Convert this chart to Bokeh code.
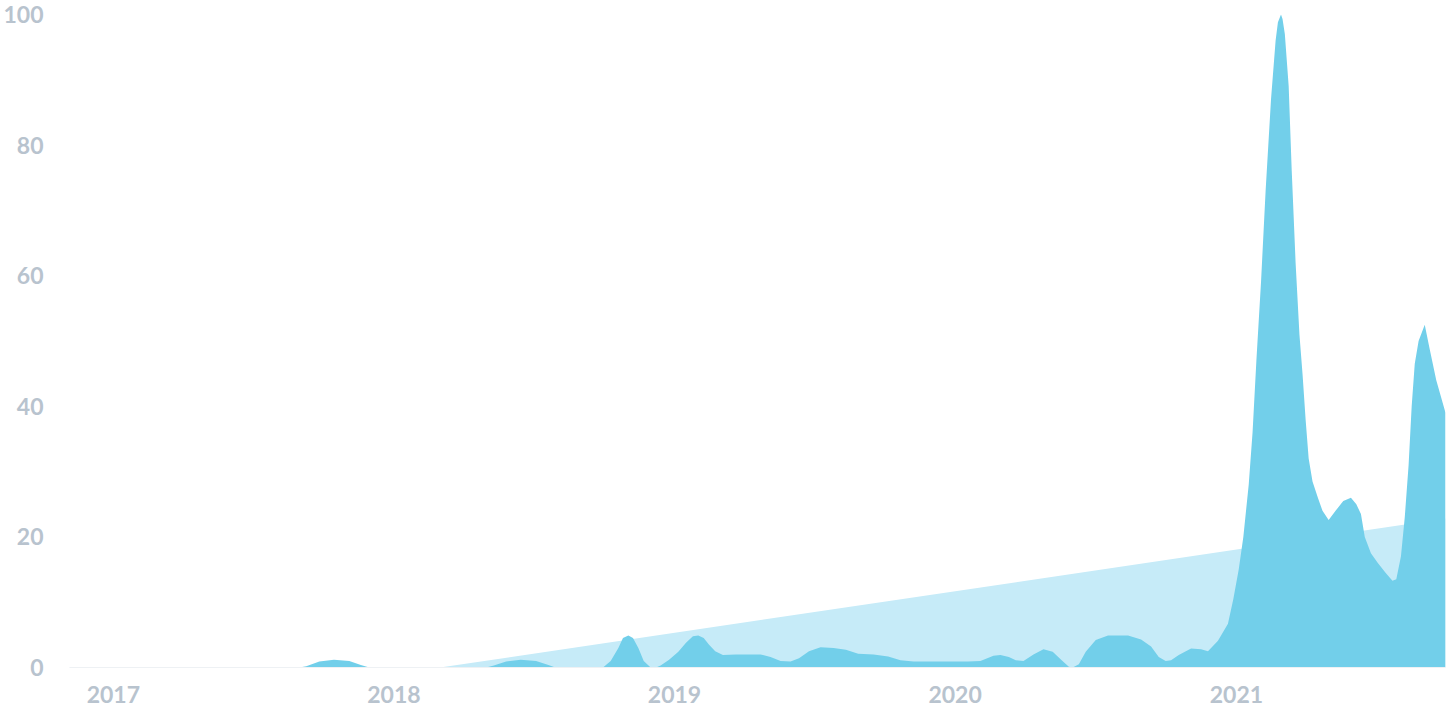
import pandas as pd
from bokeh.plotting import figure
from bokeh.models import ColumnDataSource, FixedTicker, DatetimeTickFormatter, Range1d
from bokeh.embed import file_html
from bokeh.resources import INLINE

# ---- data ----
dates = [
    "2016-11-05", "2017-08-31", "2017-09-09", "2017-09-26", "2017-10-15", "2017-11-04",
    "2017-11-19", "2017-11-30", "2018-05-01", "2018-05-11", "2018-05-27", "2018-06-15",
    "2018-07-05", "2018-07-21", "2018-07-30", "2018-09-30", "2018-10-10", "2018-10-20",
    "2018-10-26", "2018-11-02", "2018-11-08", "2018-11-15", "2018-11-22", "2018-12-01",
    "2018-12-08", "2018-12-14", "2018-12-25", "2019-01-06", "2019-01-16", "2019-01-25",
    "2019-02-01", "2019-02-08", "2019-02-15", "2019-02-23", "2019-03-05", "2019-03-22",
    "2019-04-23", "2019-05-06", "2019-05-19", "2019-06-01", "2019-06-12", "2019-06-25",
    "2019-07-10", "2019-07-27", "2019-08-12", "2019-08-28", "2019-09-17", "2019-10-06",
    "2019-10-22", "2019-11-08", "2020-01-18", "2020-02-03", "2020-02-20", "2020-02-29",
    "2020-03-11", "2020-03-20", "2020-03-30", "2020-04-12", "2020-04-25", "2020-05-07",
    "2020-05-18", "2020-05-28", "2020-06-02", "2020-06-10", "2020-06-19", "2020-07-02",
    "2020-07-18", "2020-08-13", "2020-08-30", "2020-09-12", "2020-09-22", "2020-10-01",
    "2020-10-08", "2020-10-18", "2020-11-03", "2020-11-16", "2020-11-25", "2020-12-08",
    "2020-12-21", "2020-12-28", "2021-01-04", "2021-01-10", "2021-01-17", "2021-01-22",
    "2021-01-27", "2021-02-02", "2021-02-08", "2021-02-15", "2021-02-21", "2021-02-24",
    "2021-02-28", "2021-03-02", "2021-03-05", "2021-03-10", "2021-03-14", "2021-03-19",
    "2021-03-24", "2021-03-28", "2021-04-01", "2021-04-05", "2021-04-10", "2021-04-17",
    "2021-04-23", "2021-05-01", "2021-05-10", "2021-05-20", "2021-05-30", "2021-06-06",
    "2021-06-12", "2021-06-17", "2021-06-25", "2021-07-04", "2021-07-14", "2021-07-23",
    "2021-07-28", "2021-08-03", "2021-08-08", "2021-08-13", "2021-08-17", "2021-08-21",
    "2021-08-26", "2021-09-03", "2021-09-09", "2021-09-18", "2021-09-30",
]
interest = [
    0, 0, 0.2, 0.9, 1.2, 1.0,
    0.4, 0, 0, 0.3, 0.9, 1.2,
    1.0, 0.4, 0, 0, 1.0, 3.0,
    4.5, 4.9, 4.5, 3.0, 1.0, 0,
    0, 0.3, 1.2, 2.4, 3.8, 4.8,
    4.9, 4.5, 3.5, 2.5, 1.9, 2.0,
    2.0, 1.6, 1.0, 0.9, 1.4, 2.5,
    3.1, 3.0, 2.7, 2.1, 2.0, 1.7,
    1.1, 0.9, 0.9, 1.0, 1.8, 1.9,
    1.6, 1.1, 1.0, 2.0, 2.8, 2.4,
    1.2, 0.1, 0, 0.5, 2.4, 4.2,
    4.9, 4.9, 4.3, 3.2, 1.6, 1.0,
    1.1, 1.9, 2.9, 2.8, 2.5, 4.1,
    6.7, 10.5, 15, 20, 28, 36,
    47, 59, 73, 87, 96, 98.8,
    100, 99.3, 97, 89, 76, 62,
    51, 45, 38, 32, 28.5, 26,
    24, 22.6, 24, 25.5, 26, 25,
    23.5, 20, 17.5, 16, 14.5, 13.3,
    13.5, 17, 23, 31, 40, 46.5,
    50, 52.5, 49, 44, 39,
]
trend_dates = ["2016-11-05", "2021-09-30"]
trend_values = [-8.4, 22.8]
year_ticks = [2017, 2018, 2019, 2020, 2021]
y_ticks = [0, 20, 40, 60, 80, 100]

# ---- sources ----
x = pd.to_datetime(pd.Series(dates))
src = ColumnDataSource(data=dict(x=x, y=interest, base=[0] * len(interest)))
tsrc = ColumnDataSource(data=dict(x=pd.to_datetime(pd.Series(trend_dates)),
                                  y=trend_values, base=[0, 0]))

p = figure(width=1446, height=722, x_axis_type="datetime",
           output_backend="svg", toolbar_location=None,
           x_range=Range1d(x.min(), x.max()), y_range=Range1d(0, 100),
           min_border_left=68, min_border_right=1, min_border_top=14,
           min_border_bottom=55)

p.varea(x="x", y1="base", y2="y", source=tsrc, fill_color="#c6ebf8")
p.varea(x="x", y1="base", y2="y", source=src, fill_color="#72cfea")

p.outline_line_color = None
p.xgrid.grid_line_color = None
p.ygrid.grid_line_color = None
p.background_fill_color = "white"
p.border_fill_color = "white"

label_color = "#b8c3ce"
font = "Lato"

p.xaxis.ticker = FixedTicker(ticks=[pd.Timestamp(f"{yr}-01-01").value / 1e6 for yr in year_ticks])
p.xaxis.formatter = DatetimeTickFormatter(years="%Y", months="%Y", days="%Y",
                                          hours="%Y", minutes="%Y", seconds="%Y",
                                          milliseconds="%Y", microseconds="%Y")
p.yaxis.ticker = FixedTicker(ticks=y_ticks)

for ax in (p.xaxis, p.yaxis):
    ax.major_tick_line_color = None
    ax.minor_tick_line_color = None
    ax.major_label_text_color = label_color
    ax.major_label_text_font = font
    ax.major_label_text_font_style = "bold"
    ax.major_label_text_font_size = "23px"

p.xaxis.axis_line_color = "#eef1f4"
p.xaxis.axis_line_width = 1
p.yaxis.axis_line_color = None
p.xaxis.major_label_standoff = 12
p.yaxis.major_label_standoff = 20

open("out.html", "w").write(file_html(p, INLINE))
